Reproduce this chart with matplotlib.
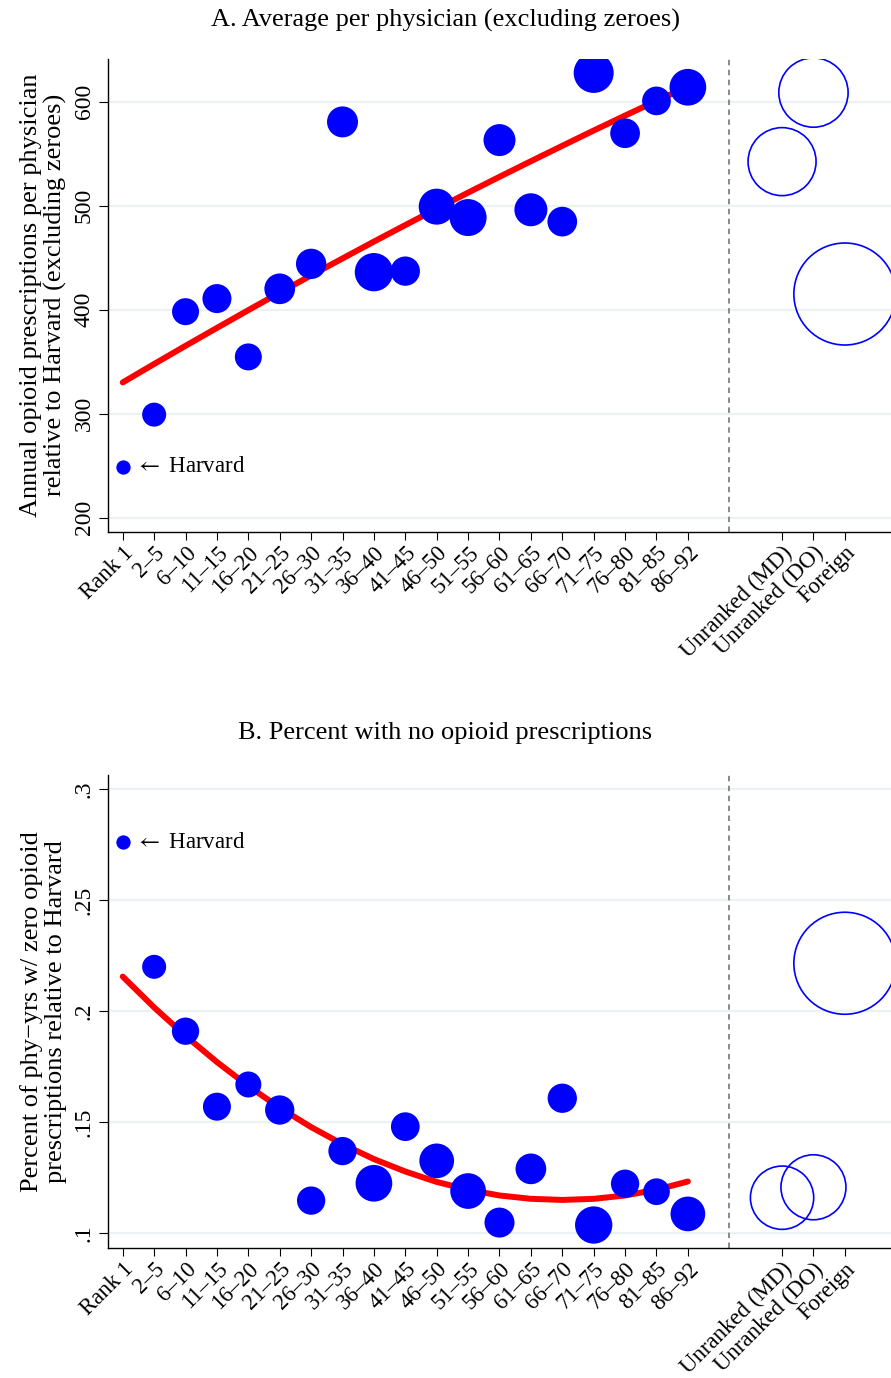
import numpy as np
import matplotlib
matplotlib.use("Agg")
import matplotlib.pyplot as plt

plt.rcParams['font.family'] = ['Liberation Serif', 'DejaVu Serif']
plt.rcParams['mathtext.fontset'] = 'stix'

# Categories
ranks = ["2–5", "6–10", "11–15", "16–20", "21–25", "26–30", "31–35", "36–40", "41–45",
         "46–50", "51–55", "56–60", "61–65", "66–70", "71–75", "76–80", "81–85", "86–92"]
groups = ["Unranked (MD)", "Unranked (DO)", "Foreign"]

# Panel A: average per physician (excluding zeroes)
a_vals = [299, 398, 410.6, 354.5, 420, 444, 580.5, 436, 437,
          499, 488.5, 563, 496, 484.6, 627.6, 569.6, 600.7, 613.8]
a_harvard = 249
a_groups = [542.3, 608.7, 415]
a_fit = [330, 347.7, 365.2, 382.4, 399.5, 416.3, 432.9, 449.2, 465.4, 481.3,
         497.0, 512.5, 527.7, 542.7, 557.5, 572.2, 586.6, 600.7, 614.6]
# bubble diameters (px) ~ number of physicians
a_bubble = [24, 27, 29, 27, 30.7, 30.3, 31, 38.3, 29.3, 36, 37, 32, 33, 29.7, 40, 29.7, 28.7, 36.7]
a_group_bubble = [68, 69.3, 102]

# Panel B: percent with no opioid prescriptions
b_vals = [0.220, 0.191, 0.157, 0.167, 0.1555, 0.1147, 0.137, 0.1225, 0.148,
          0.1326, 0.119, 0.1048, 0.129, 0.1608, 0.1037, 0.1223, 0.1187, 0.1087]
b_harvard = 0.276
b_groups = [0.116, 0.1207, 0.2216]
b_fit = [0.2156, 0.2017, 0.1889, 0.1771, 0.1663, 0.1565, 0.1478, 0.1401, 0.1334, 0.1278,
         0.1231, 0.1196, 0.1170, 0.1155, 0.1150, 0.1155, 0.1170, 0.1196, 0.1233]
b_bubble = [24, 27.3, 28, 26, 29.3, 28.3, 28.3, 36.7, 28.7, 34.7, 35.7, 30, 30.7, 29.3, 37.3, 28.3, 26.7, 34.7]
b_group_bubble = [63.3, 65, 102]
harvard_bubble = 14.3

xlabels = ["Rank 1"] + ranks + groups
x_rank = np.arange(1, len(ranks) + 1)
x_fit = np.arange(0, len(ranks) + 1)
x_grp = len(ranks) + 3 + np.arange(len(groups))
x_ticks = np.concatenate([[0], x_rank, x_grp])
x_sep = len(ranks) + 1.3


def s_of(d):
    return (np.asarray(d) * 0.72) ** 2


fig = plt.figure(figsize=(8.91, 13.78), dpi=100)
axA = fig.add_axes([0.1212, 0.6142, 0.8788, 0.3430])
axB = fig.add_axes([0.1212, 0.0941, 0.8788, 0.3435])


def draw(ax, vals, harvard, grp, fit, bubble, grp_bubble, ylim, yticks, yticklabels, ylabel, title, title_y):
    for yt in yticks:
        ax.axhline(yt, color='#eaf2f3', lw=1.6, zorder=0)
    ax.axvline(x_sep, color='#808080', lw=1.3, ls=(0, (3, 2.5)), zorder=1)
    ax.plot(x_fit, fit, color='#ff0000', lw=4.3, solid_capstyle='round', zorder=2)
    ax.scatter(x_rank, vals, s=s_of(bubble), color='#0000ff', linewidths=0, zorder=3)
    ax.scatter([0], [harvard], s=s_of(harvard_bubble), color='#0000ff', linewidths=0, zorder=3)
    ax.scatter(x_grp, grp, s=s_of(grp_bubble), facecolors='none', edgecolors='#0000ff',
               linewidths=1.2, zorder=3)
    ax.text(0.4, harvard, r"$\leftarrow$ Harvard", va='center', ha='left', fontsize=16.5)
    ax.set_xlim(-0.47, 24.47)
    ax.set_ylim(*ylim)
    ax.set_yticks(yticks)
    ax.set_yticklabels(yticklabels, rotation=90, va='center', fontsize=17)
    ax.set_xticks(x_ticks)
    ax.set_xticklabels(xlabels, rotation=45, ha='right', rotation_mode='anchor', fontsize=16.5)
    ax.tick_params(axis='y', length=6.5, width=0.8, pad=3)
    ax.tick_params(axis='x', length=5.5, width=0.8, pad=2)
    for sp in ['top', 'right']:
        ax.spines[sp].set_visible(False)
    for sp in ['left', 'bottom']:
        ax.spines[sp].set_linewidth(1.0)
    ax.set_ylabel(ylabel, fontsize=19, labelpad=5, linespacing=1.1)
    fig.text(0.5, title_y, title, ha='center', va='center', fontsize=19)


draw(axA, a_vals, a_harvard, a_groups, a_fit, a_bubble, a_group_bubble,
     (186.5, 641), [200, 300, 400, 500, 600], ["200", "300", "400", "500", "600"],
     "Annual opioid prescriptions per physician\nrelative to Harvard (excluding zeroes)",
     "A. Average per physician (excluding zeroes)", 1 - 20 / 1378)

draw(axB, b_vals, b_harvard, b_groups, b_fit, b_bubble, b_group_bubble,
     (0.0932, 0.3064), [0.1, 0.15, 0.2, 0.25, 0.3], [".1", ".15", ".2", ".25", ".3"],
     "Percent of phy−yrs w/ zero opioid\nprescriptions relative to Harvard",
     "B. Percent with no opioid prescriptions", 1 - 733 / 1378)

fig.savefig("out.png", dpi=100)
